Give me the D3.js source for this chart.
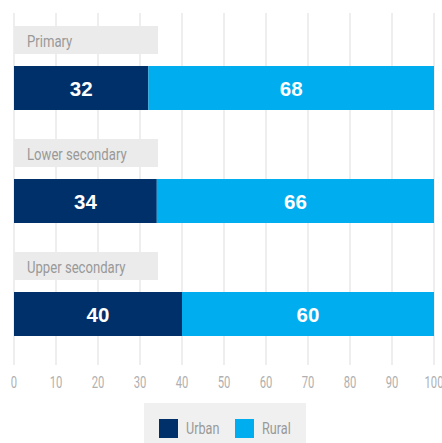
<!DOCTYPE html>
<html>
<head>
<meta charset="utf-8">
<script src="https://cdn.jsdelivr.net/npm/d3@7"></script>
<style>
  body { margin: 0; background: #fff; }
  .narrow { font-family: "Roboto", "DejaVu Sans Condensed", sans-serif; font-weight: 400; }
</style>
</head>
<body>
<div id="Chart"></div>
<script>
// data
var categories = ["Primary", "Lower secondary", "Upper secondary"];
var urban = [32, 34, 40];
var rural = [68, 66, 60];
var xTicks = [0, 10, 20, 30, 40, 50, 60, 70, 80, 90, 100];
var seriesNames = ["Urban", "Rural"];
var seriesColors = ["#00306a", "#00aeef"];

var width = 442, height = 443;

var svg = d3.select("#Chart")
            .append("svg")
            .attr("class", "chart")
            .attr("width", width)
            .attr("height", height);

var x = d3.scaleLinear().domain([0, 100]).range([14, 434]);
var y = d3.scaleBand().domain(categories).range([26, 365]).paddingInner(0);

// condensed look: squeeze text horizontally
function squeeze(px, py, s){ return "translate(" + px + "," + py + ") scale(" + s + ",1)"; }

// grid lines
svg.append("g")
   .selectAll("line")
   .data(xTicks)
   .enter()
   .append("line")
   .attr("x1", d => x(d)).attr("x2", d => x(d))
   .attr("y1", 13).attr("y2", 365)
   .attr("stroke", "#e3e3e3")
   .attr("stroke-width", 1.2);

// tick labels
svg.append("g")
   .selectAll("text")
   .data(xTicks)
   .enter()
   .append("text")
   .attr("class", "narrow")
   .attr("transform", d => squeeze(x(d), 388, 0.66))
   .attr("text-anchor", "middle")
   .style("font-size", "17px")
   .style("fill", "#b0b0b0")
   .text(d => d);

var group = svg.selectAll("g.cat")
   .data(categories)
   .enter()
   .append("g")
   .attr("class", "cat")
   .attr("transform", d => "translate(0," + y(d) + ")");

// category label boxes
group.append("rect")
   .attr("x", x(0))
   .attr("y", 0)
   .attr("width", 144)
   .attr("height", 28)
   .attr("fill", "#ebebeb");
group.append("text")
   .attr("class", "narrow")
   .attr("transform", squeeze(x(0) + 13, 20.5, 0.82))
   .style("font-size", "16px")
   .style("fill", "#999999")
   .text(d => d);

// bars
group.append("rect")
   .attr("x", x(0))
   .attr("y", 40)
   .attr("width", (d, i) => x(urban[i]) - x(0))
   .attr("height", 44)
   .attr("fill", seriesColors[0]);
group.append("rect")
   .attr("x", (d, i) => x(urban[i]))
   .attr("y", 40)
   .attr("width", (d, i) => x(urban[i] + rural[i]) - x(urban[i]))
   .attr("height", 44)
   .attr("fill", seriesColors[1]);

// value labels
group.append("text")
   .attr("x", (d, i) => (x(0) + x(urban[i])) / 2)
   .attr("y", 69.5)
   .attr("text-anchor", "middle")
   .style("font-family", "Liberation Sans, Arial, sans-serif")
   .style("font-weight", "bold")
   .style("font-size", "20.5px")
   .style("fill", "#fff")
   .text((d, i) => urban[i]);
group.append("text")
   .attr("x", (d, i) => (x(urban[i]) + x(urban[i] + rural[i])) / 2)
   .attr("y", 69.5)
   .attr("text-anchor", "middle")
   .style("font-family", "Liberation Sans, Arial, sans-serif")
   .style("font-weight", "bold")
   .style("font-size", "20.5px")
   .style("fill", "#fff")
   .text((d, i) => rural[i]);

// legend
var legend = svg.append("g");
legend.append("rect")
   .attr("x", 144).attr("y", 403)
   .attr("width", 162).attr("height", 40)
   .attr("fill", "#f0f0f0");
var lx = [159, 235];
legend.selectAll("rect.key")
   .data(seriesNames)
   .enter()
   .append("rect")
   .attr("class", "key")
   .attr("x", (d, i) => lx[i])
   .attr("y", 419)
   .attr("width", 19).attr("height", 19)
   .attr("fill", (d, i) => seriesColors[i]);
legend.selectAll("text")
   .data(seriesNames)
   .enter()
   .append("text")
   .attr("class", "narrow")
   .attr("transform", (d, i) => squeeze(lx[i] + 27, 434, 0.79))
   .style("font-size", "16px")
   .style("fill", "#999999")
   .text(d => d);
</script>
</body>
</html>
